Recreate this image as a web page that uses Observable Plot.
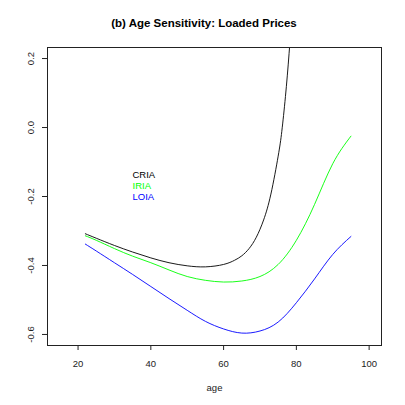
<!DOCTYPE html>
<html>
<head>
<meta charset="utf-8">
<script src="https://cdn.jsdelivr.net/npm/d3@7"></script>
<script src="https://cdn.jsdelivr.net/npm/@observablehq/plot@0.6"></script>
<style>
  html, body { margin: 0; padding: 0; background: #fff; }
  svg { display: block; }
</style>
</head>
<body>
<div id="chart"></div>
<script>
// ---- data ----
const titleText = "(b) Age Sensitivity: Loaded Prices";
const xLabel = "age";
const xTicks = [20, 40, 60, 80, 100];
const yTicks = [-0.6, -0.4, -0.2, 0.0, 0.2];
const seriesNames = ["CRIA", "IRIA", "LOIA"];
const seriesColors = ["#000000", "#00ff00", "#0000ff"];

const agesCRIA = [22, 25, 30, 35, 40, 45, 50, 55, 60, 63, 65, 67, 69, 71, 73, 75, 76, 77, 78, 79, 80];
const valCRIA  = [-0.308, -0.321, -0.342, -0.361, -0.378, -0.392, -0.401, -0.404, -0.397, -0.385, -0.372, -0.351, -0.318, -0.268, -0.193, -0.083, -0.011, 0.090, 0.215, 0.370, 0.560];

const ages    = [22, 25, 30, 35, 40, 45, 50, 55, 60, 65, 70, 75, 80, 85, 90, 95];
const valIRIA = [-0.314, -0.327, -0.351, -0.373, -0.392, -0.413, -0.432, -0.443, -0.448, -0.445, -0.432, -0.397, -0.327, -0.223, -0.105, -0.025];
const valLOIA = [-0.338, -0.358, -0.392, -0.426, -0.461, -0.496, -0.530, -0.562, -0.584, -0.596, -0.590, -0.564, -0.508, -0.439, -0.368, -0.316];

const rows = [
  ...agesCRIA.map((a, i) => ({age: a, value: valCRIA[i], series: "CRIA"})),
  ...ages.map((a, i) => ({age: a, value: valIRIA[i], series: "IRIA"})),
  ...ages.map((a, i) => ({age: a, value: valLOIA[i], series: "LOIA"}))
];

const font = "'Liberation Sans', Arial, Helvetica, sans-serif";

const legendMarks = seriesNames.map((name, i) =>
  Plot.text([name], {
    text: d => d,
    frameAnchor: "top-left",
    textAnchor: "start",
    lineAnchor: "middle",
    dx: 85,
    dy: 127 + i * 11,
    fill: seriesColors[i],
    fontSize: 9.5
  })
);

const chart = Plot.plot({
  width: 405,
  height: 405,
  marginLeft: 47,
  marginRight: 24,
  marginTop: 47,
  marginBottom: 60,
  style: {fontFamily: font, background: "#fff"},
  x: {domain: [11.6, 103.4], axis: null},
  y: {domain: [-0.632, 0.232], axis: null},
  color: {domain: seriesNames, range: seriesColors},
  marks: [
    Plot.line(rows, {
      x: "age", y: "value", z: "series", stroke: "series",
      strokeWidth: 0.9, curve: "natural", clip: true
    }),
    Plot.frame({stroke: "#222", strokeWidth: 1}),
    Plot.axisX({ticks: xTicks, tickSize: 5, tickFormat: () => "", label: null, stroke: "#222"}),
    Plot.axisY({ticks: yTicks, tickSize: 5, tickFormat: () => "", label: null, stroke: "#222"}),
    Plot.text(xTicks, {
      x: d => d, text: d => String(d),
      frameAnchor: "bottom", lineAnchor: "middle", dy: 18.5,
      fontSize: 9.5, fill: "#222"
    }),
    Plot.text(yTicks, {
      y: d => d, text: d => d.toFixed(1),
      frameAnchor: "left", textAnchor: "middle", lineAnchor: "middle",
      rotate: -90, dx: -17,
      fontSize: 9.5, fill: "#222"
    }),
    Plot.text([xLabel], {
      text: d => d, frameAnchor: "bottom", lineAnchor: "middle", dy: 42,
      fontSize: 9.5, fill: "#222"
    }),
    Plot.text([titleText], {
      text: d => d, frameAnchor: "top", lineAnchor: "middle", dx: -10.5, dy: -24,
      fontSize: 11.5, fontWeight: "bold", fill: "#000"
    }),
    ...legendMarks
  ]
});

document.getElementById("chart").appendChild(chart);
</script>
</body>
</html>
